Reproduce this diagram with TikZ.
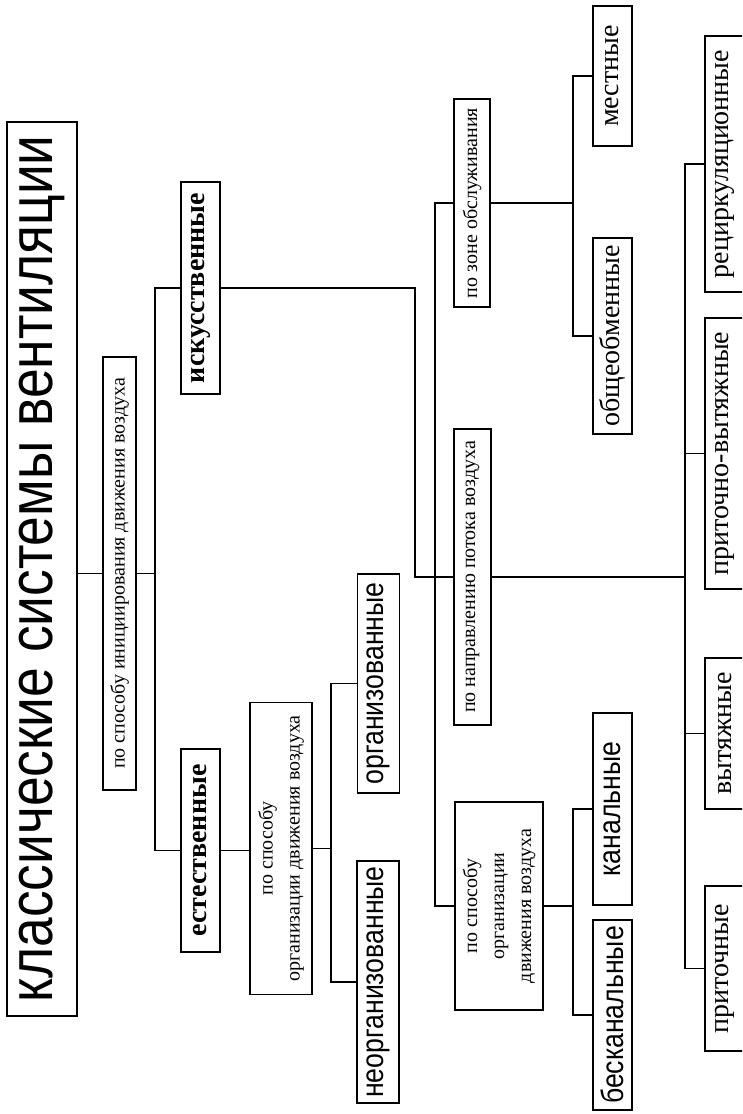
\documentclass[tikz,border=0pt]{standalone}
\usepackage{fontspec}
\setmainfont{Liberation Serif}
\newfontfamily\narrowsans[FakeStretch=0.86]{Liberation Sans}
\begin{document}
\begin{tikzpicture}[x=1pt,y=-1pt,
  box/.style={draw,line width=1.8pt,rotate=90,inner sep=0pt,align=center},
  conn/.style={line width=1.8pt},
  small/.style={font=\fontsize{20}{27}\selectfont},
  leaf/.style={font=\fontsize{28}{30}\selectfont},
  leafsans/.style={font=\narrowsans\fontsize{31}{32}\selectfont},
  strong/.style={font=\bfseries\fontsize{28}{30}\selectfont}]
\useasboundingbox (0,0) rectangle (742,1114);
\clip (0,0) rectangle (742,1114);
\fill[white] (0,0) rectangle (742,1114);

\node[box, minimum width=894, minimum height=70, font=\narrowsans\fontsize{62}{62}\selectfont] (title) at (42,569) {классические системы вентиляции};
\node[box,small, minimum width=433, minimum height=33] (init) at (119.5,573.5) {по способу инициирования движения воздуха};
\node[box,strong, minimum width=212, minimum height=39] (isk) at (200.5,288) {искусственные};
\node[box,strong, minimum width=203, minimum height=39] (est) at (200.5,850.5) {естественные};
\node[box,small, minimum width=292, minimum height=62] (natorg) at (281,848.5) {по способу\\организации движения воздуха};
\node[box,leafsans, minimum width=219, minimum height=42] (org) at (378.5,683.5) {организованные};
\node[box,leafsans, minimum width=242, minimum height=42] (neorg) at (378,982) {неорганизованные};
\node[box,small, minimum width=208, minimum height=36] (zone) at (472,203) {по зоне обслуживания};
\node[box,small, minimum width=296, minimum height=37] (dir) at (472.5,577) {по направлению потока воздуха};
\node[box,small, minimum width=208, minimum height=88] (org2) at (499,906) {по способу\\организации\\движения воздуха};
\node[box,leaf, minimum width=140, minimum height=39] (mest) at (612.5,76) {местные};
\node[box,leaf, minimum width=196, minimum height=39] (obsch) at (612.5,336) {общеобменные};
\node[box,leafsans, minimum width=192, minimum height=39] (kan) at (612.5,809) {канальные};
\node[box,leafsans, minimum width=190, minimum height=39] (beskan) at (612.5,1015) {бесканальные};
\node[box,leaf, minimum width=256, minimum height=40] (recirc) at (725,164) {рециркуляционные};
\node[box,leaf, minimum width=271, minimum height=40] (pv) at (725,453.5) {приточно-вытяжные};
\node[box,leaf, minimum width=151, minimum height=40] (vyt) at (725,733.5) {вытяжные};
\node[box,leaf, minimum width=165, minimum height=40] (prit) at (725,968.5) {приточные};

\coordinate (j1) at (155,573.5);
\coordinate (j2) at (415,577);
\coordinate (j3) at (435,577);
\coordinate (j4) at (331,848.5);
\coordinate (j5) at (573,203);
\coordinate (j6) at (685,577);
\coordinate (j7) at (573,906);

\draw[conn] (title.south |- init.north) -- (init.north);
\draw[conn] (init.south) -- (j1);
\draw[conn] (isk.north) -| (j1) |- (est.north);
\draw[conn] (isk.south) -| (j2) -- (dir.north);
\draw[conn] (zone.north) -| (j3) |- (org2.north);
\draw[conn] (est.south) -- (est.south -| natorg.north);
\draw[conn] (natorg.south) -- (j4);
\draw[conn] (org.north) -| (j4) |- (neorg.north);
\draw[conn] (zone.south) -- (j5);
\draw[conn] (mest.north) -| (j5) |- (obsch.north);
\draw[conn] (dir.south) -- (j6);
\draw[conn] (recirc.north) -| (j6) |- (prit.north);
\draw[conn] (pv.north) -- (pv.north -| j6);
\draw[conn] (vyt.north) -- (vyt.north -| j6);
\draw[conn] (org2.south) -- (j7);
\draw[conn] (kan.north) -| (j7) |- (beskan.north);
\end{tikzpicture}
\end{document}
